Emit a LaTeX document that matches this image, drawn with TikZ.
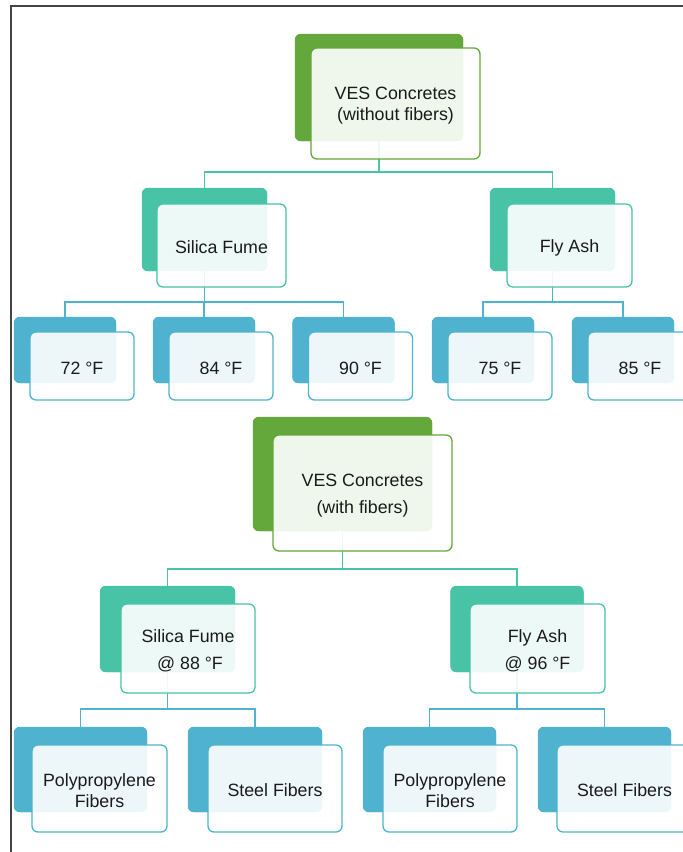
\documentclass[tikz,border=0pt]{standalone}
\usepackage{fontspec}
\setmainfont{Liberation Sans}
\definecolor{cgreen}{HTML}{64A73A}
\definecolor{cteal}{HTML}{48C3A5}
\definecolor{cblue}{HTML}{4FB3D0}
\definecolor{cframe}{HTML}{444444}
\definecolor{ctext}{HTML}{1A1A1A}
\newcommand\upstrut{\rule{0pt}{17pt}}
\tikzset{
  backbox/.style={draw=none, fill=#1, rounded corners=6pt, inner sep=0pt},
  frontbox/.style={draw=#1, line width=1.3pt, fill=white, fill opacity=0.9, text opacity=1,
    rounded corners=6pt, inner sep=0pt, align=center, text=ctext,
    font=\fontsize{17.8}{21}\selectfont},
  wide/.style={font=\fontsize{17.8}{27}\selectfont},
  conn/.style={draw=#1, line width=1.3pt},
  frameline/.style={draw=cframe, line width=1.3pt}
}
\begin{document}
\begin{tikzpicture}[x=1pt,y=-1pt]
\useasboundingbox (0,0) rectangle (683,852);
\fill[white] (0,0) rectangle (683,852);
% frame
\coordinate (f0) at (11,6);
\coordinate (f1) at (690,6);
\coordinate (f2) at (11,860);
\draw[frameline] (f1) -- (f0) -- (f2);
% bar levels
\coordinate (barA) at (0,172);
\coordinate (barB) at (0,302);
\coordinate (barC) at (0,569);
\coordinate (barD) at (0,709);
% back nodes (connector anchors)
\node[backbox=cgreen, minimum width=168pt, minimum height=107pt] (t1b) at (379,87.5) {};
\node[backbox=cteal, minimum width=125pt, minimum height=83pt] (sfb) at (204.5,229.5) {};
\node[backbox=cteal, minimum width=125pt, minimum height=83pt] (fab) at (552.5,229.5) {};
\node[backbox=cblue, minimum width=102pt, minimum height=66pt] (s72b) at (65,350) {};
\node[backbox=cblue, minimum width=102pt, minimum height=66pt] (s84b) at (204,350) {};
\node[backbox=cblue, minimum width=102pt, minimum height=66pt] (s90b) at (343.5,350) {};
\node[backbox=cblue, minimum width=102pt, minimum height=66pt] (f75b) at (483,350) {};
\node[backbox=cblue, minimum width=102pt, minimum height=66pt] (f85b) at (623,350) {};
\node[backbox=cgreen, minimum width=179pt, minimum height=114pt] (t2b) at (342.5,474) {};
\node[backbox=cteal, minimum width=135pt, minimum height=86pt] (sf2b) at (167.5,629) {};
\node[backbox=cteal, minimum width=133pt, minimum height=86pt] (fa2b) at (517,629) {};
\node[backbox=cblue, minimum width=133pt, minimum height=85pt] (pp1b) at (80.5,769.5) {};
\node[backbox=cblue, minimum width=134pt, minimum height=85pt] (st1b) at (255,769.5) {};
\node[backbox=cblue, minimum width=133pt, minimum height=85pt] (pp2b) at (429.5,769.5) {};
\node[backbox=cblue, minimum width=133pt, minimum height=85pt] (st2b) at (604.5,769.5) {};
% connectors
\draw[conn=cteal] (t1b.south) |- (barA -| sfb.north) -- (sfb.north);
\draw[conn=cteal] (t1b.south) |- (barA -| fab.north) -- (fab.north);
\foreach \c in {s72b,s84b,s90b}{\draw[conn=cblue] (sfb.south) |- (barB -| \c.north) -- (\c.north);}
\foreach \c in {f75b,f85b}{\draw[conn=cblue] (fab.south) |- (barB -| \c.north) -- (\c.north);}
\draw[conn=cteal] (t2b.south) |- (barC -| sf2b.north) -- (sf2b.north);
\draw[conn=cteal] (t2b.south) |- (barC -| fa2b.north) -- (fa2b.north);
\foreach \c in {pp1b,st1b}{\draw[conn=cblue] (sf2b.south) |- (barD -| \c.north) -- (\c.north);}
\foreach \c in {pp2b,st2b}{\draw[conn=cblue] (fa2b.south) |- (barD -| \c.north) -- (\c.north);}
% repaint back boxes over connector ends
\foreach \n/\col in {t1b/cgreen,sfb/cteal,fab/cteal,s72b/cblue,s84b/cblue,s90b/cblue,f75b/cblue,f85b/cblue,t2b/cgreen,sf2b/cteal,fa2b/cteal,pp1b/cblue,st1b/cblue,pp2b/cblue,st2b/cblue}{
  \fill[\col, rounded corners=6pt] (\n.south west) rectangle (\n.north east);}
% front nodes
\node[frontbox=cgreen, minimum width=169pt, minimum height=111pt] (t1) at (395.5,103.5) {\upstrut VES Concretes\\(without fibers)};
\node[frontbox=cteal, minimum width=129pt, minimum height=83pt] (sf) at (221.5,245.5) {\upstrut Silica Fume};
\node[frontbox=cteal, minimum width=125pt, minimum height=83pt] (fa) at (569.5,245.5) {\upstrut Fly Ash};
\node[frontbox=cblue, minimum width=104pt, minimum height=68pt] (s72) at (82,366) {\upstrut 72 °F};
\node[frontbox=cblue, minimum width=104pt, minimum height=68pt] (s84) at (221,366) {\upstrut 84 °F};
\node[frontbox=cblue, minimum width=104pt, minimum height=68pt] (s90) at (360.5,366) {\upstrut 90 °F};
\node[frontbox=cblue, minimum width=104pt, minimum height=68pt] (f75) at (500,366) {\upstrut 75 °F};
\node[frontbox=cblue, minimum width=104pt, minimum height=68pt] (f85) at (640,366) {\upstrut 85 °F};
\node[frontbox=cgreen, wide, minimum width=179pt, minimum height=116pt] (t2) at (362.5,493) {\upstrut VES Concretes\\(with fibers)};
\node[frontbox=cteal, wide, minimum width=134pt, minimum height=89pt] (sf2) at (188,648.5) {\upstrut Silica Fume\\\hspace*{4pt}@ 88 °F};
\node[frontbox=cteal, wide, minimum width=135pt, minimum height=89pt] (fa2) at (537.5,648.5) {\upstrut Fly Ash\\@ 96 °F};
\node[frontbox=cblue, minimum width=135pt, minimum height=87pt] (pp1) at (99.5,788.5) {\upstrut Polypropylene\\Fibers};
\node[frontbox=cblue, minimum width=134pt, minimum height=87pt] (st1) at (275,788.5) {\upstrut Steel Fibers};
\node[frontbox=cblue, minimum width=134pt, minimum height=87pt] (pp2) at (450,788.5) {\upstrut Polypropylene\\Fibers};
\node[frontbox=cblue, minimum width=135pt, minimum height=87pt] (st2) at (624.5,788.5) {\upstrut Steel Fibers};
\end{tikzpicture}
\end{document}
